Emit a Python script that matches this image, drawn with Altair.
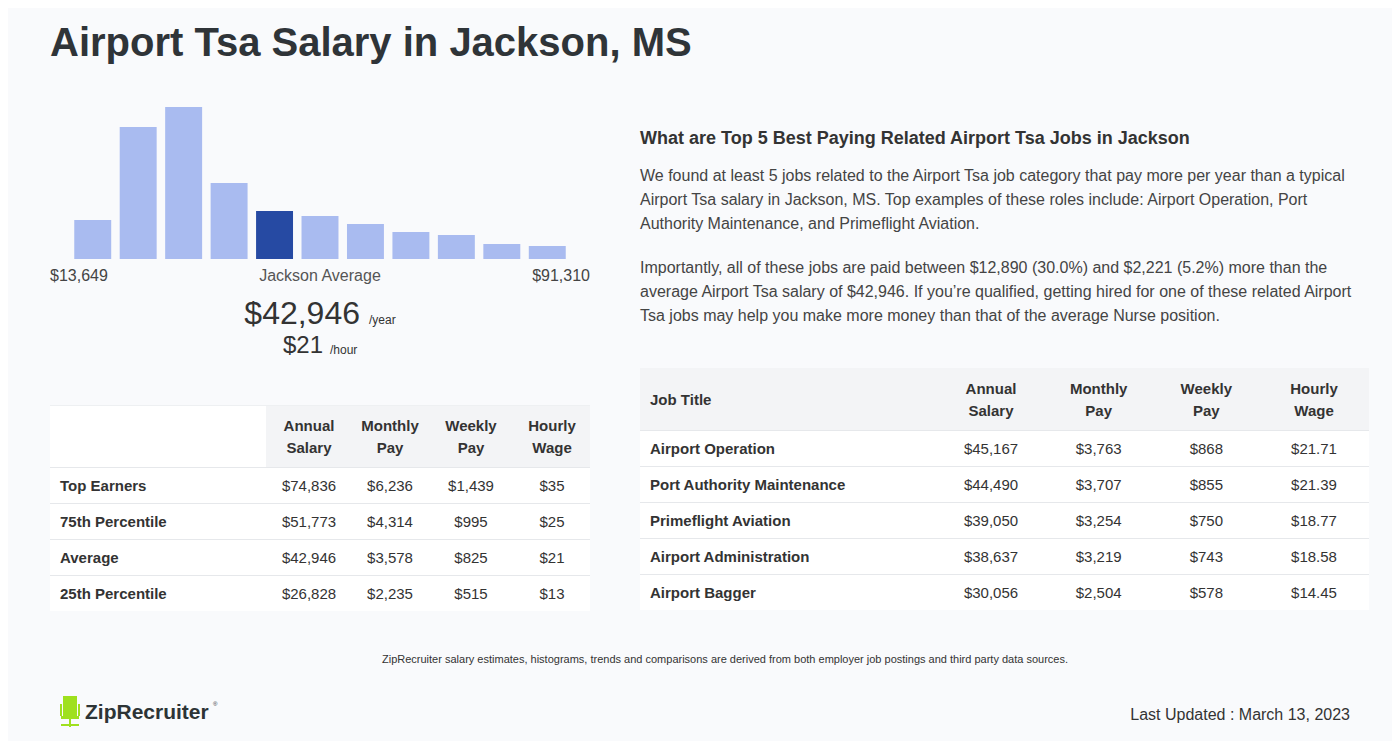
import altair as alt
import pandas as pd

# ---------------- data ----------------
bin_labels = ["b1", "b2", "b3", "b4", "b5", "b6", "b7", "b8", "b9", "b10", "b11"]
bin_counts = [39, 132, 152, 76, 48, 43, 35, 27, 24, 15, 13]
avg_bin = "b5"

left_rows = ["Top Earners", "75th Percentile", "Average", "25th Percentile"]
left_cols = ["Annual\nSalary", "Monthly\nPay", "Weekly\nPay", "Hourly\nWage"]
left_annual = ["$74,836", "$51,773", "$42,946", "$26,828"]
left_monthly = ["$6,236", "$4,314", "$3,578", "$2,235"]
left_weekly = ["$1,439", "$995", "$825", "$515"]
left_hourly = ["$35", "$25", "$21", "$13"]

jobs = ["Airport Operation", "Port Authority Maintenance", "Primeflight Aviation",
        "Airport Administration", "Airport Bagger"]
job_annual = ["$45,167", "$44,490", "$39,050", "$38,637", "$30,056"]
job_monthly = ["$3,763", "$3,707", "$3,254", "$3,219", "$2,504"]
job_weekly = ["$868", "$855", "$750", "$743", "$578"]
job_hourly = ["$21.71", "$21.39", "$18.77", "$18.58", "$14.45"]

paragraph1 = [
    "We found at least 5 jobs related to the Airport Tsa job category that pay more per year than a typical",
    "Airport Tsa salary in Jackson, MS. Top examples of these roles include: Airport Operation, Port",
    "Authority Maintenance, and Primeflight Aviation.",
]
paragraph2 = [
    "Importantly, all of these jobs are paid between $12,890 (30.0%) and $2,221 (5.2%) more than the",
    "average Airport Tsa salary of $42,946. If you\u2019re qualified, getting hired for one of these related Airport",
    "Tsa jobs may help you make more money than that of the average Nurse position.",
]

# ---------------- helpers ----------------
W, H = 1384, 733
O = 8
FONT = "Liberation Sans"
BG = "#f9fafc"
HEAD_BG = "#f3f4f6"
LINE = "#e6e8eb"
one = pd.DataFrame({"k": [0]})


def text(s, x, y, size, weight="normal", color="#333333", align="left"):
    return alt.Chart(one).mark_text(
        text=s, fontSize=size, fontWeight=weight, color=color, align=align,
        baseline="middle", font=FONT
    ).encode(x=alt.value(x - O), y=alt.value(y - O))


def rect(x1, x2, y1, y2, color):
    return alt.Chart(one).mark_rect(color=color).encode(
        x=alt.value(x1 - O), x2=alt.value(x2 - O), y=alt.value(y1 - O), y2=alt.value(y2 - O))


def hline(x1, x2, y, color=LINE):
    return alt.Chart(one).mark_rule(color=color, strokeWidth=1).encode(
        x=alt.value(x1 - O), x2=alt.value(x2 - O), y=alt.value(y - O))


layers = []

# title
layers.append(text("Airport Tsa Salary in Jackson, MS", 50, 44, 40, "bold", "#2f3438"))

# histogram
hist_df = pd.DataFrame({
    "bin": bin_labels,
    "count": bin_counts,
    "kind": ["avg" if b == avg_bin else "other" for b in bin_labels],
})
layers.append(
    alt.Chart(hist_df).mark_bar().encode(
        x=alt.X("bin:N", sort=bin_labels, axis=None,
                scale=alt.Scale(domain=bin_labels, range=[70 - O, 570 - O],
                                paddingInner=0.187, paddingOuter=0.0935)),
        y=alt.Y("count:Q", axis=None,
                scale=alt.Scale(domain=[0, 160], range=[259 - O, 99 - O])),
        color=alt.Color("kind:N", legend=None,
                        scale=alt.Scale(domain=["other", "avg"], range=["#a9bbf0", "#264aa3"])),
    )
)
layers.append(text("$13,649", 50, 276, 16, color="#444444"))
layers.append(text("Jackson Average", 320, 276, 16, color="#555555", align="center"))
layers.append(text("$91,310", 590, 276, 16, color="#444444", align="right"))
layers.append(text("$42,946", 360, 314, 32, color="#333333", align="right"))
layers.append(text("/year", 369, 320, 12, color="#333333"))
layers.append(text("$21", 323, 346, 24, color="#333333", align="right"))
layers.append(text("/hour", 330, 350, 12, color="#333333"))

# left table
layers.append(rect(50, 590, 405, 611, "#ffffff"))
layers.append(rect(266, 590, 405, 467, HEAD_BG))
layers.append(hline(50, 590, 405.5, "#eef0f2"))
for yy in [467.5, 503.5, 539.5, 575.5]:
    layers.append(hline(50, 590, yy))

left_long = []
for i, r in enumerate(left_rows):
    for c, vals in zip(left_cols, [left_annual, left_monthly, left_weekly, left_hourly]):
        left_long.append({"row": r, "col": c, "val": vals[i]})
left_df = pd.DataFrame(left_long)
lx = alt.Scale(type="point", domain=left_cols, range=[309 - O, 552 - O], padding=0)
ly = alt.Scale(type="point", domain=left_rows, range=[486 - O, 594 - O], padding=0)
layers.append(
    alt.Chart(left_df).mark_text(fontSize=15, font=FONT, color="#333333", baseline="middle").encode(
        x=alt.X("col:N", scale=lx, axis=None), y=alt.Y("row:N", scale=ly, axis=None), text="val:N"))
layers.append(
    alt.Chart(pd.DataFrame({"row": left_rows})).mark_text(
        fontSize=15, font=FONT, fontWeight="bold", color="#333333", align="left", baseline="middle").encode(
        x=alt.value(60 - O), y=alt.Y("row:N", scale=ly, axis=None), text="row:N"))
layers.append(
    alt.Chart(pd.DataFrame({"col": left_cols})).mark_text(
        fontSize=15, font=FONT, fontWeight="bold", color="#333333", baseline="middle",
        lineBreak="\n", lineHeight=22).encode(
        x=alt.X("col:N", scale=lx, axis=None), y=alt.value(426 - O), text="col:N"))

# right text
layers.append(text("What are Top 5 Best Paying Related Airport Tsa Jobs in Jackson", 640, 139, 18, "bold", "#333333"))
for i, line in enumerate(paragraph1):
    layers.append(text(line, 640, 176 + 24 * i, 16, color="#444444"))
for i, line in enumerate(paragraph2):
    layers.append(text(line, 640, 268 + 24 * i, 16, color="#444444"))

# right table
layers.append(rect(640, 1369, 368, 610, "#ffffff"))
layers.append(rect(640, 1369, 368, 430, HEAD_BG))
for yy in [430.5, 466.5, 502.5, 538.5, 574.5]:
    layers.append(hline(640, 1369, yy))

job_long = []
for i, r in enumerate(jobs):
    for c, vals in zip(left_cols, [job_annual, job_monthly, job_weekly, job_hourly]):
        job_long.append({"job": r, "jcol": c, "val": vals[i]})
job_df = pd.DataFrame(job_long)
rx = alt.Scale(type="point", domain=left_cols, range=[991 - O, 1314 - O], padding=0)
ry = alt.Scale(type="point", domain=jobs, range=[449 - O, 593 - O], padding=0)
layers.append(
    alt.Chart(job_df).mark_text(fontSize=15, font=FONT, color="#333333", baseline="middle").encode(
        x=alt.X("jcol:N", scale=rx, axis=None), y=alt.Y("job:N", scale=ry, axis=None), text="val:N"))
layers.append(
    alt.Chart(pd.DataFrame({"job": jobs})).mark_text(
        fontSize=15, font=FONT, fontWeight="bold", color="#333333", align="left", baseline="middle").encode(
        x=alt.value(650 - O), y=alt.Y("job:N", scale=ry, axis=None), text="job:N"))
layers.append(
    alt.Chart(pd.DataFrame({"jcol": left_cols})).mark_text(
        fontSize=15, font=FONT, fontWeight="bold", color="#333333", baseline="middle",
        lineBreak="\n", lineHeight=22).encode(
        x=alt.X("jcol:N", scale=rx, axis=None), y=alt.value(389 - O), text="jcol:N"))
layers.append(text("Job Title", 650, 400, 15, "bold", "#333333"))

# footer
layers.append(text("ZipRecruiter salary estimates, histograms, trends and comparisons are derived from both employer job postings and third party data sources.",
                   725, 660, 11, color="#333333", align="center"))
layers.append(text("Last Updated : March 13, 2023", 1350, 715, 16, color="#333333", align="right"))

# logo: chair icon + wordmark
GREEN = "#9fe01e"
layers.append(rect(63, 77, 696, 716, GREEN))
layers.append(rect(60, 62, 704, 716, GREEN))
layers.append(rect(78, 80, 704, 716, GREEN))
layers.append(rect(61, 79, 716, 719, GREEN))
layers.append(rect(69, 71, 719, 727, GREEN))
layers.append(rect(61, 79, 724, 726, GREEN))
layers.append(text("ZipRecruiter", 85, 713, 21, "bold", "#2d3436"))
layers.append(text("\u00ae", 213, 704, 6, color="#2d3436"))

chart = alt.layer(*layers).resolve_scale(x="independent", y="independent", color="independent").properties(
    width=W, height=H, background=BG, padding=0, autosize=alt.AutoSizeParams(type="none")
).configure_view(stroke=None)

chart.save("out.html", embed_options={"renderer": "svg", "actions": False})
